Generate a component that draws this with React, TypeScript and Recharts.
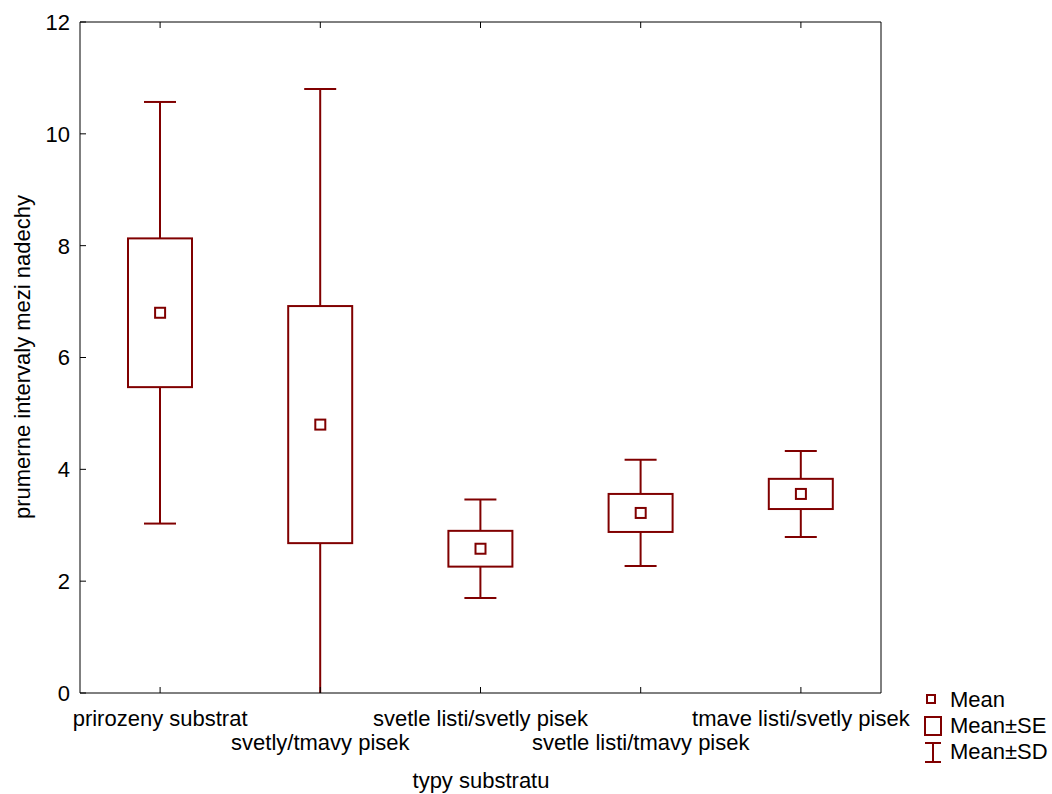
import { ComposedChart, Bar, Scatter, XAxis, YAxis, Label } from "recharts";

const categories = [
  "prirozeny substrat",
  "svetly/tmavy pisek",
  "svetle listi/svetly pisek",
  "svetle listi/tmavy pisek",
  "tmave listi/svetly pisek",
];
const means = [6.8, 4.8, 2.58, 3.22, 3.56];
const seValues = [1.33, 2.12, 0.32, 0.34, 0.27];
const sdValues = [3.77, 6.0, 0.88, 0.95, 0.77];
const yTicks = [0, 2, 4, 6, 8, 10, 12];

const data = categories.map((name, i) => ({
  name,
  mean: means[i],
  se: [means[i] - seValues[i], means[i] + seValues[i]],
  sd: [means[i] - sdValues[i], means[i] + sdValues[i]],
}));

const RED = "#800000";
const FONT = "'Liberation Sans', Arial, sans-serif";

const Whisker = (props: any) => {
  const { x, y, width, height } = props;
  const cx = x + width / 2;
  const top = Math.min(y, y + height);
  const bottom = Math.max(y, y + height);
  return (
    <g>
      <line x1={cx} x2={cx} y1={top} y2={bottom} stroke={RED} strokeWidth={2} />
      <line x1={cx - 16} x2={cx + 16} y1={top} y2={top} stroke={RED} strokeWidth={2} />
      <line x1={cx - 16} x2={cx + 16} y1={bottom} y2={bottom} stroke={RED} strokeWidth={2} />
    </g>
  );
};

const SeBox = (props: any) => {
  const { x, y, width, height } = props;
  const cx = x + width / 2;
  const top = Math.min(y, y + height);
  return (
    <rect x={cx - 32} y={top} width={64} height={Math.abs(height)} fill="#fff" stroke={RED} strokeWidth={2} />
  );
};

const MeanMark = (props: any) => {
  const { cx, cy } = props;
  return <rect x={cx - 5} y={cy - 5} width={10} height={10} fill="#fff" stroke={RED} strokeWidth={2} />;
};

const XTick = (props: any) => {
  const { x, y, payload, index } = props;
  return (
    <g>
      <line x1={x} x2={x} y1={y} y2={y - 6} stroke="#000" />
      <text x={x} y={index % 2 ? 750 : 726} textAnchor="middle" fontSize={22} fontFamily={FONT} fill="#000">
        {payload.value}
      </text>
    </g>
  );
};

const TopTick = (props: any) => {
  const { x, y } = props;
  return <line x1={x} x2={x} y1={y} y2={y + 6} stroke="#000" />;
};

const YTick = (props: any) => {
  const { x, y, payload } = props;
  return (
    <g>
      <line x1={x} x2={x + 6} y1={y} y2={y} stroke="#000" />
      <text x={x - 10} y={y} dy="0.36em" textAnchor="end" fontSize={22} fontFamily={FONT} fill="#000">
        {payload.value}
      </text>
    </g>
  );
};

const RightTick = (props: any) => {
  const { x, y } = props;
  return <line x1={x} x2={x - 6} y1={y} y2={y} stroke="#000" />;
};

const LegendBox = () => (
  <svg width={140} height={90} style={{ display: "block" }}>
    <rect x={12} y={15} width={8} height={8} fill="#fff" stroke={RED} strokeWidth={2} />
    <text x={35} y={19} dy="0.36em" fontSize={22} fontFamily={FONT}>Mean</text>
    <rect x={10} y={37} width={16} height={18} fill="#fff" stroke={RED} strokeWidth={2} />
    <text x={35} y={45} dy="0.36em" fontSize={22} fontFamily={FONT}>Mean±SE</text>
    <line x1={18} x2={18} y1={63} y2={82} stroke={RED} strokeWidth={2} />
    <line x1={10} x2={26} y1={63} y2={63} stroke={RED} strokeWidth={2} />
    <line x1={10} x2={26} y1={82} y2={82} stroke={RED} strokeWidth={2} />
    <text x={35} y={71} dy="0.36em" fontSize={22} fontFamily={FONT}>Mean±SD</text>
  </svg>
);

export default function App() {
  return (
    <div style={{ position: "absolute", left: 0, top: 0, width: 1052, height: 794, background: "#fff" }}>
      <ComposedChart
        width={1052}
        height={794}
        data={data}
        margin={{ top: 21, right: 170, bottom: 100, left: 79 }}
        barGap={-64}
      >
        <XAxis
          dataKey="name"
          height={1}
          interval={0}
          tickSize={0}
          tickMargin={0}
          tickLine={false}
          tick={<XTick />}
          axisLine={{ stroke: "#000" }}
        >
          <Label
            content={() => (
              <text x={481} y={780} dy="0.36em" textAnchor="middle" fontSize={22} fontFamily={FONT}>
                typy substratu
              </text>
            )}
          />
        </XAxis>
        <XAxis
          xAxisId="top"
          dataKey="name"
          orientation="top"
          height={1}
          interval={0}
          tickSize={0}
          tickMargin={0}
          tickLine={false}
          tick={<TopTick />}
          axisLine={{ stroke: "#000" }}
        />
        <YAxis
          width={1}
          domain={[0, 12]}
          ticks={yTicks}
          allowDataOverflow
          tickSize={0}
          tickMargin={0}
          tickLine={false}
          tick={<YTick />}
          axisLine={{ stroke: "#000" }}
        >
          <Label
            content={() => (
              <text
                x={22}
                y={357}
                dy="0.36em"
                textAnchor="middle"
                fontSize={22}
                fontFamily={FONT}
                transform="rotate(-90, 22, 357)"
              >
                prumerne intervaly mezi nadechy
              </text>
            )}
          />
        </YAxis>
        <YAxis
          yAxisId="right"
          orientation="right"
          width={1}
          domain={[0, 12]}
          ticks={yTicks}
          tickSize={0}
          tickMargin={0}
          tickLine={false}
          tick={<RightTick />}
          axisLine={{ stroke: "#000" }}
        />
        <Bar dataKey="sd" barSize={64} shape={<Whisker />} isAnimationActive={false} legendType="none" />
        <Bar dataKey="se" barSize={64} shape={<SeBox />} isAnimationActive={false} legendType="none" />
        <Scatter dataKey="mean" shape={<MeanMark />} isAnimationActive={false} legendType="none" />
      </ComposedChart>
      <div style={{ position: "absolute", left: 915, top: 680 }}>
        <LegendBox />
      </div>
    </div>
  );
}
